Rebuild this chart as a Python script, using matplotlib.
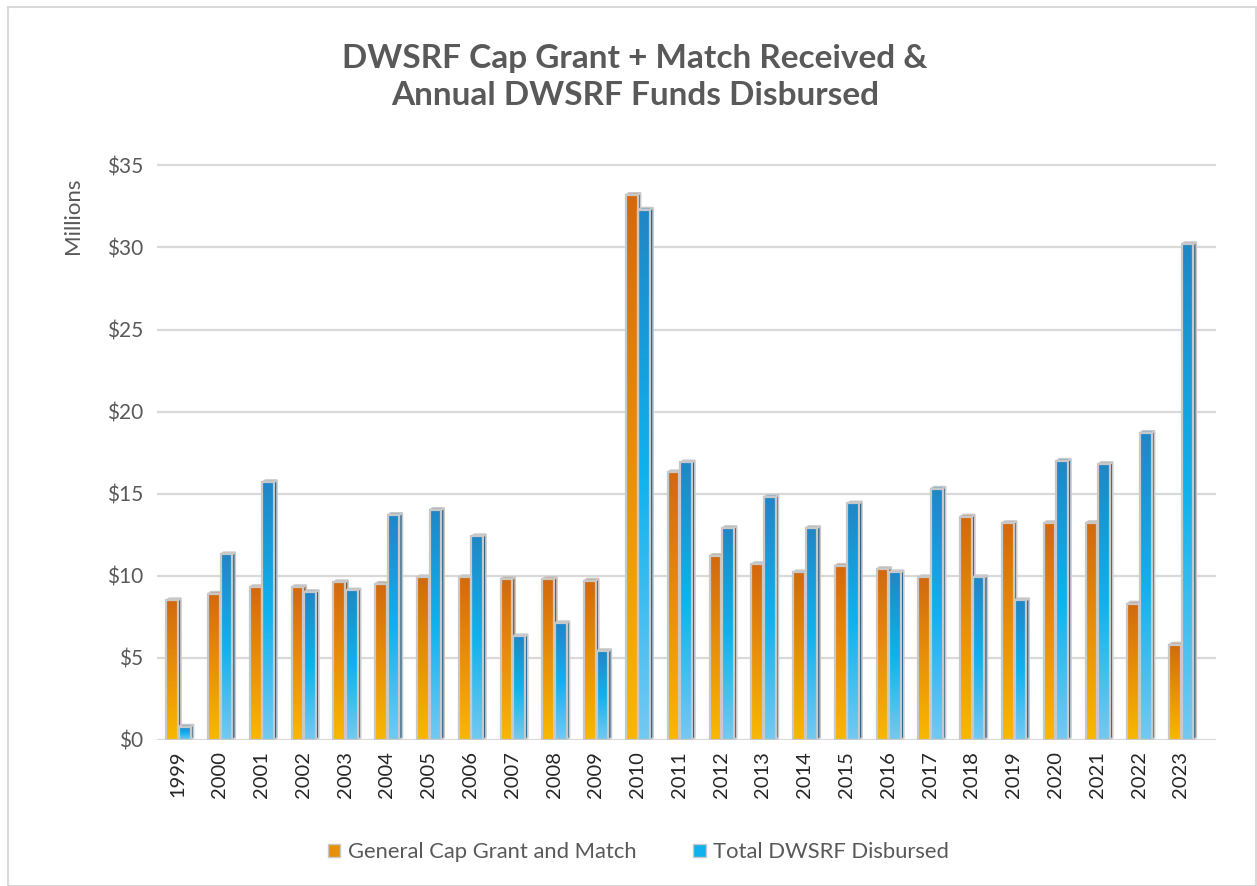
import numpy as np
import matplotlib
matplotlib.use("Agg")
import matplotlib.pyplot as plt
from matplotlib.patches import Rectangle, Polygon, Patch
from matplotlib.colors import LinearSegmentedColormap

years = [str(y) for y in range(1999, 2024)]
cap_grant = [8.5, 8.9, 9.3, 9.3, 9.6, 9.5, 9.9, 9.9, 9.8, 9.8, 9.7, 33.2,
             16.3, 11.2, 10.7, 10.2, 10.6, 10.4, 9.9, 13.6, 13.2, 13.2, 13.2, 8.3, 5.8]
disbursed = [0.8, 11.3, 15.7, 9.0, 9.1, 13.7, 14.0, 12.4, 6.3, 7.1, 5.4, 32.3,
             16.9, 12.9, 14.8, 12.9, 14.4, 10.2, 15.3, 9.9, 8.5, 17.0, 16.8, 18.7, 30.2]
series_names = ["General Cap Grant and Match", "Total DWSRF Disbursed"]
yticks = [0, 5, 10, 15, 20, 25, 30, 35]

plt.rcParams['font.family'] = ['Lato', 'DejaVu Sans']

fig = plt.figure(figsize=(12.57, 8.86), dpi=100)
ax = fig.add_axes([0.125, 0.165, 0.842, 0.652])

# frame around chart
fig.patches.append(Rectangle((0.006, 0.0), 0.993, 0.992, transform=fig.transFigure,
                             fill=False, edgecolor='#d9d9d9', linewidth=1.5))

orange_cmap = LinearSegmentedColormap.from_list('o', ['#f9b800', '#e8900a', '#d2690f'])
blue_cmap = LinearSegmentedColormap.from_list('b', ['#74c9f2', '#0fb2ee', '#2186c6'])

w = 0.28
dx, dy = 0.07, 0.13
grad = np.linspace(0, 1, 256).reshape(-1, 1)

def draw_bar(x0, h, cmap, side_col, top_col):
    x1 = x0 + w
    side = Polygon([(x1, 0), (x1 + dx, dy), (x1 + dx, h + dy), (x1, h)], closed=True,
                   facecolor=side_col, edgecolor='#c8c8c8', linewidth=1.2, zorder=3)
    ax.add_patch(side)
    top = Polygon([(x0, h), (x1, h), (x1 + dx, h + dy), (x0 + dx, h + dy)], closed=True,
                  facecolor=top_col, edgecolor='#c8c8c8', linewidth=1.2, zorder=3)
    ax.add_patch(top)
    rect = Rectangle((x0, 0), w, h, facecolor='none', edgecolor='#c8c8c8',
                     linewidth=1.6, zorder=4)
    ax.add_patch(rect)
    im = ax.imshow(grad, cmap=cmap, extent=[x0, x1, 0, h], origin='lower',
                   aspect='auto', zorder=3.5)
    im.set_clip_path(rect)

for i, (a, b) in enumerate(zip(cap_grant, disbursed)):
    draw_bar(i - 0.28, a, orange_cmap, '#8a4a12', '#c98a5a')
    draw_bar(i + 0.02, b, blue_cmap, '#1b5c86', '#4a9fd0')

ax.set_xlim(-0.5, len(years) - 0.5 + 0.33)
ax.set_ylim(0, 35.2)
ax.set_yticks(yticks)
ax.set_yticklabels([f"${v}" for v in yticks], fontsize=15, color='#595959')
ax.set_xticks(range(len(years)))
ax.set_xticklabels(years, rotation=90, fontsize=14.5, color='#262626')
ax.tick_params(axis='both', length=0, pad=10)
ax.tick_params(axis='x', pad=8)
ax.yaxis.grid(True, color='#d9d9d9', linewidth=1.6, zorder=0)
ax.set_axisbelow(True)
for s in ax.spines.values():
    s.set_visible(False)

fig.text(0.058, 0.757, "Millions", rotation=90, fontsize=16, color='#595959',
         ha='center', va='center')

fig.text(0.505, 0.913, "DWSRF Cap Grant + Match Received &\nAnnual DWSRF Funds Disbursed",
         ha='center', va='center', fontsize=24, fontweight='bold', color='#595959',
         linespacing=1.3)

handles = [Patch(facecolor='#e8900a', edgecolor='#c8c8c8'),
           Patch(facecolor='#0fb2ee', edgecolor='#c8c8c8')]
fig.legend(handles, series_names, loc='center', bbox_to_anchor=(0.508, 0.038),
           ncol=2, frameon=False, fontsize=15.8, handlelength=0.55, handleheight=0.55,
           handletextpad=0.35, columnspacing=2.6, labelcolor='#595959')

fig.savefig("out.png", dpi=100)
